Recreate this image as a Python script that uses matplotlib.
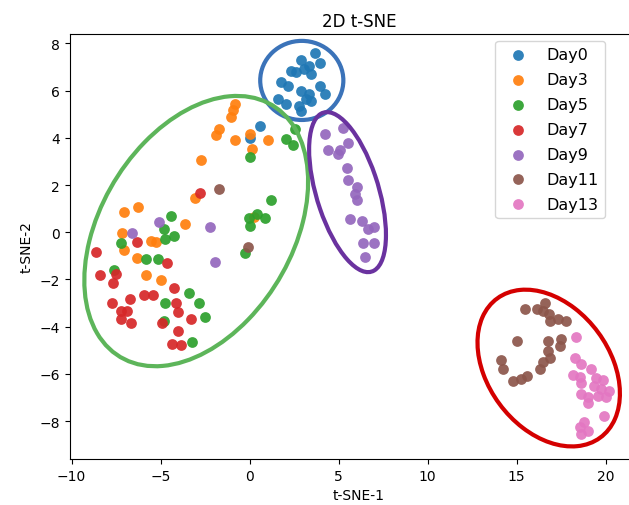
import numpy as np
import matplotlib
matplotlib.use("Agg")
import matplotlib.pyplot as plt
from matplotlib.patches import Ellipse

# t-SNE coordinates per day
day0_x = [3.68, 3.96, 2.91, 3.31, 2.35, 2.63, 3.08, 3.47, 1.79, 2.18, 3.98, 2.91,
          3.31, 4.26, 3.14, 3.47, 1.62, 2.02, 2.75, 2.86, 0.60, 0.00]
day0_y = [7.58, 7.16, 7.30, 7.05, 6.83, 6.78, 6.90, 6.69, 6.36, 6.19, 6.19, 5.97,
          5.85, 5.85, 5.64, 5.55, 5.64, 5.42, 5.34, 5.13, 4.49, 3.98]

day3_x = [-0.84, -0.94, -1.03, -1.74, -1.87, -0.84, 0.04, 1.06, 0.13, -2.71, -3.08,
          -3.64, -7.06, -6.26, -7.15, -7.06, -6.31, -5.56, -5.28, -5.84, -5.00, 0.22]
day3_y = [5.42, 5.18, 4.90, 4.36, 4.12, 3.91, 4.18, 3.90, 3.52, 3.05, 1.44,
          0.34, 0.86, 1.05, -0.01, -0.76, -1.07, -0.37, -0.41, -1.82, -2.03, 0.64]

day5_x = [2.56, 2.03, 2.43, 0.00, 1.22, 0.41, 0.84, -0.06, 0.00, -0.24, -4.39, -4.82,
          -4.26, -4.76, -7.24, -5.84, -5.15, -7.62, -3.42, -2.86, -4.76, -2.48, -4.82, -3.23]
day5_y = [4.36, 3.94, 3.69, 3.17, 1.37, 0.76, 0.62, 0.62, 0.27, -0.89, 0.67, 0.13,
          -0.16, -0.30, -0.44, -1.14, -1.14, -1.60, -2.58, -2.98, -2.98, -3.57, -3.76, -4.63]

day7_x = [-2.76, -8.64, -6.35, -4.63, -8.42, -7.52, -7.66, -4.22, -6.74, -5.94, -5.43,
          -7.71, -7.24, -6.87, -7.24, -6.68, -4.16, -4.03, -3.32, -4.91, -4.03, -4.35, -3.88]
day7_y = [1.65, -0.83, -0.41, -1.31, -1.82, -1.78, -2.13, -2.37, -2.81, -2.67, -2.67,
          -2.98, -3.33, -3.33, -3.69, -3.83, -2.98, -3.38, -3.66, -3.83, -4.18, -4.72, -4.79]

day9_x = [4.24, 5.27, 5.55, 4.39, 5.08, 4.99, 5.45, 5.55, 6.01, 5.92, 6.01, 5.64,
          6.29, 6.67, 7.00, 6.39, 7.00, 6.48, -5.10, -6.63, -2.20, -1.92]
day9_y = [4.18, 4.41, 3.80, 3.47, 3.47, 3.33, 2.74, 2.20, 1.92, 1.64, 1.36, 0.55,
          0.48, 0.13, 0.22, -0.44, -0.44, -1.05, 0.44, -0.01, 0.22, -1.26]

day11_x = [15.48, 16.15, 16.57, 16.47, 16.81, 16.85, 17.31, 17.78, 15.03, 16.75, 17.50,
           17.41, 16.75, 16.85, 16.47, 16.29, 14.10, 14.23, 14.79, 15.26, 15.59, -1.70, -0.11]
day11_y = [-3.23, -3.23, -3.01, -3.33, -3.47, -3.76, -3.69, -3.76, -4.61, -4.61, -4.53,
           -4.82, -5.03, -5.31, -5.50, -5.78, -5.42, -5.81, -6.30, -6.23, -6.09, 1.85, -0.62]

day13_x = [18.34, 18.25, 18.62, 19.18, 18.15, 18.53, 18.62, 19.46, 19.83, 19.37, 19.74,
           20.20, 18.62, 18.99, 19.55, 20.00, 18.99, 19.89, 18.81, 18.58, 18.62, 18.99]
day13_y = [-4.42, -5.34, -5.59, -5.81, -6.04, -6.14, -6.40, -6.16, -6.25, -6.51, -6.65,
           -6.74, -6.86, -6.99, -6.95, -6.99, -7.22, -7.78, -8.03, -8.26, -8.56, -8.42]

labels = ["Day0", "Day3", "Day5", "Day7", "Day9", "Day11", "Day13"]
xs = [day0_x, day3_x, day5_x, day7_x, day9_x, day11_x, day13_x]
ys = [day0_y, day3_y, day5_y, day7_y, day9_y, day11_y, day13_y]

# cluster outlines: center, width, height, angle, color
clusters = [
    ((2.93, 6.43), 4.67, 3.35, 0, "#3b73b9"),
    ((-3.0, 0.05), 14.1, 9.5, 37.8, "#5db55a"),
    ((5.5, 1.7), 7.28, 3.4, -65.6, "#6a329f"),
    ((16.8, -5.75), 8.6, 5.84, -30, "#d40000"),
]

fig = plt.figure(figsize=(6.29, 5.06), dpi=100)
# axes runs past the right edge of the figure, like the cropped original
ax = fig.add_axes([0.111, 0.091, 0.919, 0.840])

for x, y, lab in zip(xs, ys, labels):
    ax.scatter(x, y, s=60, label=lab, alpha=0.92, linewidths=0)

for (cx, cy), w, h, ang, col in clusters:
    ax.add_patch(Ellipse((cx, cy), w, h, angle=ang, fill=False,
                         edgecolor=col, linewidth=3))

ax.set_xlim(-10.1, 22.37)
ax.set_ylim(-9.6, 8.4)
ax.set_xticks([-10, -5, 0, 5, 10, 15, 20])
ax.set_yticks([-8, -6, -4, -2, 0, 2, 4, 6, 8])

ax.set_title("2D t-SNE", fontsize=12)
ax.set_xlabel("t-SNE-1")
ax.set_ylabel("t-SNE-2")
ax.legend(loc="upper right", bbox_to_anchor=(0.926, 0.984), borderaxespad=0,
          fontsize=11.5, labelspacing=0.62)

fig.savefig("out.png", dpi=100)
